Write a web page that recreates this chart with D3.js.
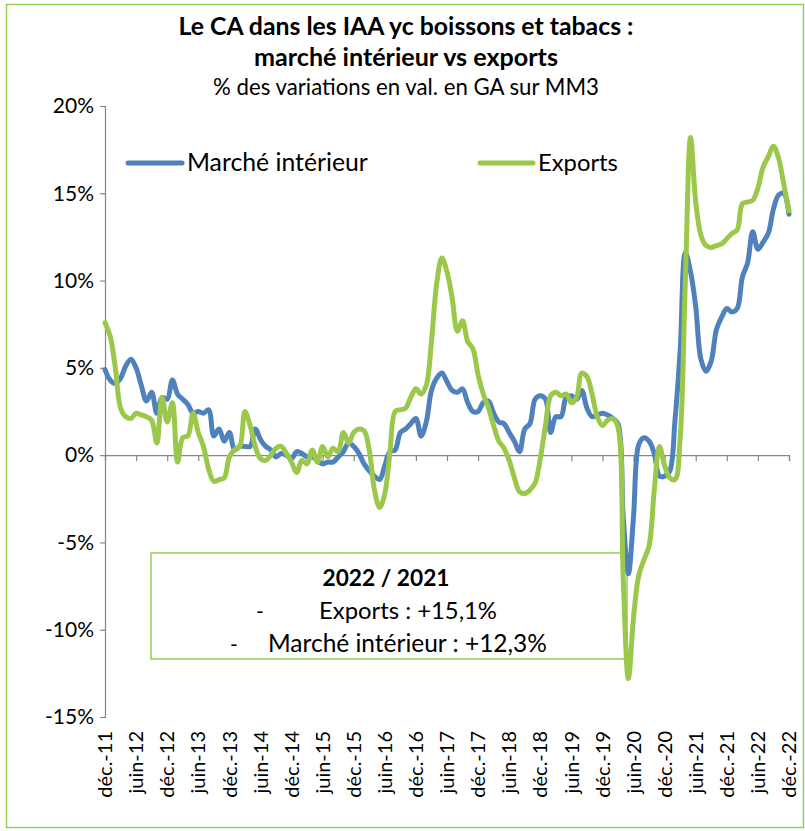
<!DOCTYPE html>
<html>
<head>
<meta charset="utf-8">
<script src="https://cdn.jsdelivr.net/npm/d3@7"></script>
<style>
  html, body { margin: 0; padding: 0; background: #fff; }
  svg { display: block; }
  text { font-family: Lato, "Open Sans", sans-serif; fill: #000; }
</style>
</head>
<body>
<svg id="chart" width="805" height="831"></svg>
<script>
// ---- Data (monthly, déc. 2011 -> déc. 2022) ----
const tickLabels = ["déc.-11","juin-12","déc.-12","juin-13","déc.-13","juin-14","déc.-14","juin-15","déc.-15","juin-16","déc.-16","juin-17","déc.-17","juin-18","déc.-18","juin-19","déc.-19","juin-20","déc.-20","juin-21","déc.-21","juin-22","déc.-22"];
const yTicks = [20, 15, 10, 5, 0, -5, -10, -15];

const marcheInterieur = [
  4.9, 4.3, 4.1, 4.4, 5.1, 5.5, 5.0, 4.0, 3.1, 3.6, 2.4, 3.3,
  3.2, 4.3, 3.5, 3.2, 2.9, 2.4, 2.5, 2.4, 2.6, 1.1, 1.5, 0.8,
  1.3, 0.3, 0.5, 0.5, 0.5, 1.5, 0.9, 0.5, 0.3, -0.1, 0.1, 0.0,
  -0.2, 0.2, 0.1, -0.1, -0.1, -0.3, -0.5, -0.4, -0.4, -0.1, 0.2, 0.7,
  0.5, 0.1, -0.5, -0.9, -1.2, -1.4, -0.6, 0.2, 0.3, 1.3, 1.5, 1.8,
  2.1, 1.1, 1.9, 3.7, 4.4, 4.7, 4.2, 3.7, 3.6, 3.8, 3.0, 2.5,
  2.5, 3.0, 3.1, 2.4, 1.9, 1.8, 1.3, 0.8, 0.2, 1.5, 1.8, 3.2,
  3.4, 3.2, 1.3, 2.2, 2.2, 3.3, 3.4, 3.2, 3.7, 2.7, 2.2, 2.3,
  2.4, 2.3, 2.1, 1.8, -3.5, -6.8, -3.5, 0.6, 1.0, 0.8, 0.1, -1.2,
  -1.2, -0.9, 2.0, 6.0, 11.6, 10.5, 8.5, 5.5, 4.8, 5.4, 7.2, 7.9,
  8.4, 8.2, 8.4, 10.2, 11.0, 12.8, 11.8, 12.2, 12.7, 14.1, 14.9, 15.0,
  13.8
];

const exportsSerie = [
  7.6, 6.8, 5.0, 2.7, 2.2, 2.1, 2.4, 2.3, 2.2, 2.0, 0.7, 3.3,
  1.9, 3.0, -0.4, 1.0, 1.1, 2.4, 1.3, 0.5, -0.8, -1.5, -1.4, -1.3,
  -0.1, 0.3, 0.5, 2.5, 1.7, 0.5, -0.2, -0.3, 0.0, 0.4, 0.5, 0.1,
  -0.4, -1.0, -0.3, -0.5, 0.3, -0.4, 0.5, -0.1, 0.4, 0.2, 1.3, 0.7,
  1.3, 1.5, 1.4, 0.3, -2.0, -3.0, -2.2, 0.2, 2.5, 2.6, 2.7, 3.3,
  3.8, 3.5, 4.0, 6.5, 9.8, 11.3, 10.5, 9.0, 7.1, 7.7, 6.5, 6.1,
  4.6, 3.5, 2.7, 1.7, 0.8, 0.4, -0.3, -1.3, -2.1, -2.2, -2.0, -1.6,
  -0.2, 1.7, 3.4, 3.6, 3.4, 3.5, 3.0, 3.3, 4.7, 4.5, 3.5, 2.2,
  1.7, 2.0, 2.1, 1.6, -7.0, -12.8, -9.3, -6.9, -6.0, -5.2, -2.0, 0.5,
  -0.6, -1.3, -1.4, 1.0, 10.0, 18.2, 14.5, 12.6, 12.0, 11.9, 12.0, 12.1,
  12.4, 12.7, 12.9, 14.4, 14.5, 14.6, 15.3, 16.5, 17.1, 17.7, 17.0, 15.5,
  14.0
];

const seriesNames = ["Marché intérieur", "Exports"];
const seriesColors = ["#4F81BD", "#9BC84A"];
const titleLines = ["Le CA dans les IAA yc boissons et tabacs :", "marché intérieur vs exports"];
const subtitle = "% des variations en val. en GA sur MM3";
const boxTitle = "2022 / 2021";
const boxLines = [["-", "Exports : +15,1%"], ["-", "Marché intérieur : +12,3%"]];

// ---- Layout ----
const svg = d3.select("#chart");
const axisColor = "#868686";

// outer border
svg.append("rect").attr("x", 6.5).attr("y", 4.5).attr("width", 797).attr("height", 823)
  .attr("fill", "#fff").attr("stroke", "#92D050").attr("stroke-width", 1.5);

const nMonths = marcheInterieur.length;
const x = d3.scaleLinear().domain([0, nMonths - 1]).range([105, 789]);
const y = d3.scaleLinear().domain([-15, 20]).range([717, 106]);

function fit(sel, target, base) {
  sel.attr("font-size", base);
  const w = sel.node().getComputedTextLength();
  sel.attr("font-size", base * target / w);
  return sel;
}

// titles
fit(svg.append("text").attr("x", 406).attr("y", 35).attr("text-anchor", "middle")
  .attr("font-weight", "bold").text(titleLines[0]), 455, 20);
fit(svg.append("text").attr("x", 406).attr("y", 66).attr("text-anchor", "middle")
  .attr("font-weight", "bold").text(titleLines[1]), 304, 20);
fit(svg.append("text").attr("x", 406).attr("y", 95).attr("text-anchor", "middle")
  .text(subtitle), 386, 17);

// annotation box (behind lines)
svg.append("rect").attr("x", 151).attr("y", 553).attr("width", 476).attr("height", 106)
  .attr("fill", "none").attr("stroke", "#92D050").attr("stroke-width", 1.5);
fit(svg.append("text").attr("x", 386).attr("y", 586).attr("text-anchor", "middle")
  .attr("font-weight", "bold").text(boxTitle), 127, 20);
svg.append("text").attr("x", 256).attr("y", 619).attr("font-size", 21).text(boxLines[0][0]);
fit(svg.append("text").attr("x", 319).attr("y", 619).text(boxLines[0][1]), 178, 19);
svg.append("text").attr("x", 230).attr("y", 652).attr("font-size", 21).text(boxLines[1][0]);
fit(svg.append("text").attr("x", 268).attr("y", 652).text(boxLines[1][1]), 279, 19);

// y axis
const yAxis = d3.axisLeft(y).tickValues(yTicks).tickSize(5).tickPadding(6)
  .tickFormat(d => d + "%");
const gy = svg.append("g").attr("transform", "translate(105,0)").call(yAxis);
gy.select(".domain").attr("stroke", axisColor).attr("stroke-width", 1.2);
gy.selectAll(".tick line").attr("stroke", axisColor).attr("stroke-width", 1.2);
gy.selectAll(".tick text").attr("font-size", 21).attr("font-family", "Lato, sans-serif").attr("fill", "#000");

// x axis at 0
const tickIdx = tickLabels.map((d, i) => i * 6);
const xAxis = d3.axisBottom(x).tickValues(tickIdx).tickSize(6).tickFormat("");
const gx = svg.append("g").attr("transform", `translate(0,${y(0)})`).call(xAxis);
gx.select(".domain").attr("stroke", axisColor).attr("stroke-width", 1.2);
gx.selectAll(".tick line").attr("stroke", axisColor).attr("stroke-width", 1.2);

// x labels, rotated at bottom
svg.append("g").selectAll("text").data(tickLabels).join("text")
  .attr("transform", (d, i) => `translate(${x(tickIdx[i])},731) rotate(-90)`)
  .attr("text-anchor", "end").attr("dy", "0.36em")
  .attr("font-size", 20).attr("font-family", "'DejaVu Sans', sans-serif")
  .text(d => d);

// lines
const line = d3.line().x((d, i) => x(i)).y(d => y(d)).curve(d3.curveCatmullRom.alpha(0.5));
[marcheInterieur, exportsSerie].forEach((s, k) => {
  svg.append("path").datum(s).attr("d", line).attr("fill", "none")
    .attr("stroke", seriesColors[k]).attr("stroke-width", 5)
    .attr("stroke-linejoin", "round").attr("stroke-linecap", "round");
});

// legend
const legendPos = [[128, 182, 187, 181], [480, 533, 538, 80]];
seriesNames.forEach((name, k) => {
  const p = legendPos[k];
  svg.append("line").attr("x1", p[0]).attr("x2", p[1]).attr("y1", 163).attr("y2", 163)
    .attr("stroke", seriesColors[k]).attr("stroke-width", 5).attr("stroke-linecap", "round");
  fit(svg.append("text").attr("x", p[2]).attr("y", 171).text(name), p[3], 22);
});
</script>
</body>
</html>
